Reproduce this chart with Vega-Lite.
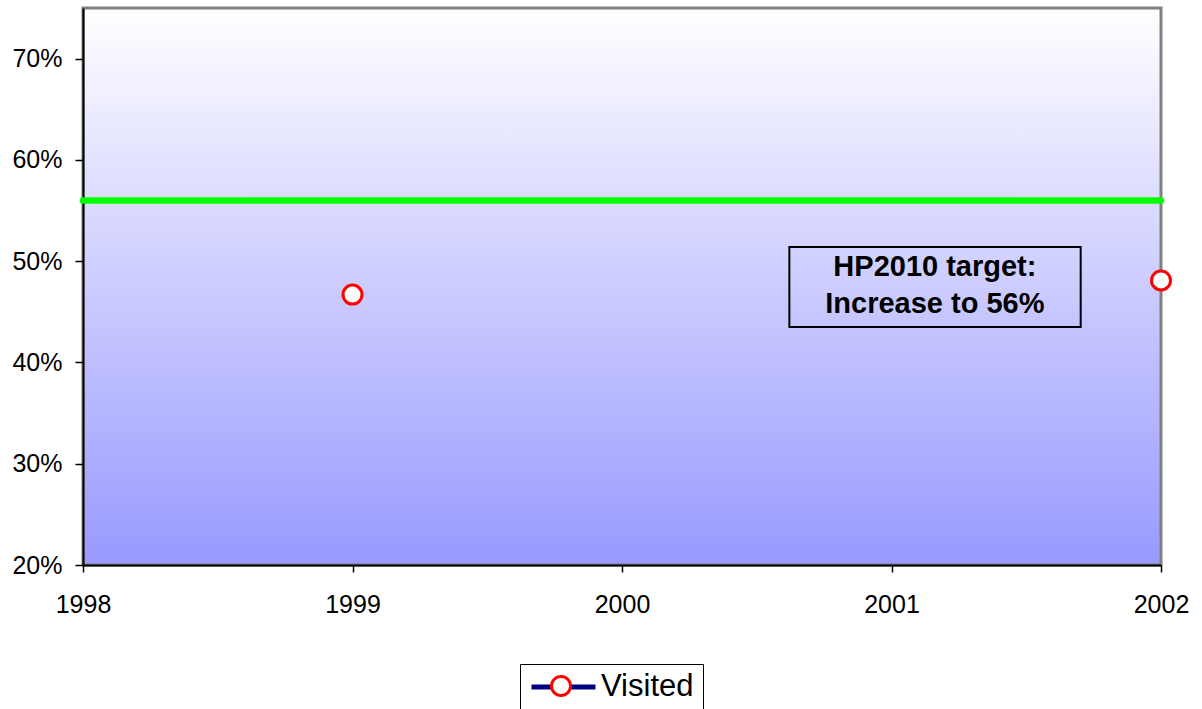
{
  "$schema": "https://vega.github.io/schema/vega-lite/v6.json",
  "width": 1078,
  "height": 557,
  "autosize": {"type": "none"},
  "padding": {"left": 83, "top": 8, "right": 41, "bottom": 144},
  "background": "white",
  "config": {
    "font": "Liberation Sans",
    "view": {
      "stroke": "#808080",
      "strokeWidth": 3,
      "fill": {"gradient": "linear", "x1": 0, "y1": 0, "x2": 0, "y2": 1,
        "stops": [{"offset": 0, "color": "#ffffff"}, {"offset": 1, "color": "#9999ff"}]}
    },
    "axis": {"grid": false, "domainColor": "#000000", "domainWidth": 2, "tickColor": "#000000", "tickWidth": 1.5, "labelColor": "#000000", "labelFontSize": 25, "labelFont": "Liberation Sans", "labelFlush": false, "title": null}
  },
  "datasets": {
    "visited": [
      {"year": 1998, "value": null, "series": "Visited", "marker": "Visited"},
      {"year": 1999, "value": 0.467, "series": "Visited", "marker": "Visited"},
      {"year": 2000, "value": null, "series": "Visited", "marker": "Visited"},
      {"year": 2001, "value": null, "series": "Visited", "marker": "Visited"},
      {"year": 2002, "value": 0.481, "series": "Visited", "marker": "Visited"}
    ],
    "target": [{"target": 0.56}],
    "box": [{"x1": 2000.621, "x2": 2001.702, "y1": 0.4350, "y2": 0.5139}],
    "labels": [
      {"year": 2001.161, "value": 0.4942, "text": "HP2010 target:"},
      {"year": 2001.161, "value": 0.4574, "text": "Increase to 56%"}
    ]
  },
  "layer": [
    {
      "data": {"name": "target"},
      "mark": {"type": "rule", "color": "#00ff00", "strokeWidth": 6.5, "strokeCap": "round"},
      "encoding": {
        "y": {"field": "target", "type": "quantitative", "scale": {"domain": [0.2, 0.75], "nice": false, "zero": false},
          "axis": {"values": [0.2, 0.3, 0.4, 0.5, 0.6, 0.7], "format": ".0%", "tickSize": 8, "labelPadding": 13}}
      }
    },
    {
      "data": {"name": "box"},
      "mark": {"type": "rect", "fill": null, "fillOpacity": 0, "stroke": "#000000", "strokeWidth": 2},
      "encoding": {
        "x": {"field": "x1", "type": "quantitative"},
        "x2": {"field": "x2"},
        "y": {"field": "y1", "type": "quantitative"},
        "y2": {"field": "y2"}
      }
    },
    {
      "data": {"name": "labels"},
      "mark": {"type": "text", "fontSize": 29, "fontWeight": "bold", "color": "#000000", "align": "center", "baseline": "middle"},
      "encoding": {
        "x": {"field": "year", "type": "quantitative"},
        "y": {"field": "value", "type": "quantitative"},
        "text": {"field": "text"}
      }
    },
    {
      "data": {"name": "visited"},
      "mark": {"type": "line", "strokeWidth": 5, "invalid": "break-paths-filter-domains"},
      "encoding": {
        "x": {"field": "year", "type": "quantitative", "scale": {"domain": [1998, 2002], "nice": false, "zero": false},
          "axis": {"values": [1998, 1999, 2000, 2001, 2002], "format": "d", "tickSize": 7, "labelPadding": 20}},
        "y": {"field": "value", "type": "quantitative"},
        "color": {"field": "series", "type": "nominal", "scale": {"range": ["#000080"]},
          "legend": {"title": null, "orient": "none", "legendX": 437, "legendY": 656, "symbolType": "stroke", "symbolSize": 4096, "symbolStrokeWidth": 5, "symbolStrokeColor": "#000080", "clipHeight": 28, "labelFontSize": 31, "labelFont": "Liberation Sans", "labelColor": "#000000", "labelOffset": 3, "padding": 9, "strokeColor": "#000000", "labelLimit": 300, "zindex": 0}}
      }
    },
    {
      "data": {"name": "visited"},
      "mark": {"type": "point", "filled": true, "fill": "#ffffff", "strokeWidth": 3, "size": 361, "opacity": 1},
      "encoding": {
        "x": {"field": "year", "type": "quantitative"},
        "y": {"field": "value", "type": "quantitative"},
        "stroke": {"field": "marker", "type": "nominal", "scale": {"range": ["#ff0000"]},
          "legend": {"title": null, "orient": "none", "legendX": 467, "legendY": 667, "symbolType": "circle", "symbolSize": 361, "symbolFillColor": "#ffffff", "symbolStrokeWidth": 3, "symbolOpacity": 1, "labelExpr": "''", "labelFontSize": 1, "padding": 0, "zindex": 1}}
      }
    }
  ]
}
